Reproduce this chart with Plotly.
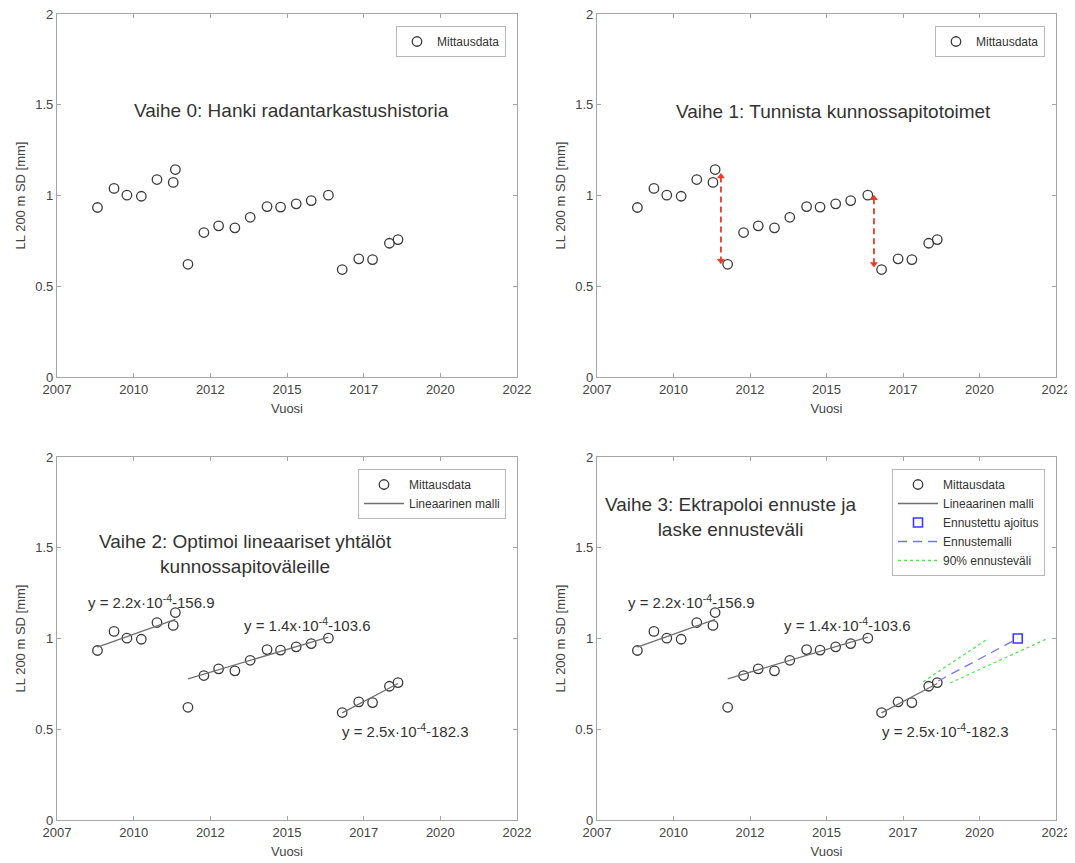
import plotly.graph_objects as go

# ---------------- data ----------------
years = [2008.32, 2008.86, 2009.28, 2009.75, 2010.26, 2010.79, 2010.86,
         2011.27, 2011.79, 2012.27, 2012.80, 2013.30, 2013.85, 2014.29,
         2014.80, 2015.29, 2015.85,
         2016.30, 2016.84, 2017.29, 2017.84, 2018.12]
values = [0.934, 1.039, 1.002, 0.996, 1.088, 1.072, 1.143,
          0.621, 0.796, 0.833, 0.822, 0.880, 0.939, 0.936,
          0.954, 0.972, 1.002,
          0.592, 0.651, 0.647, 0.737, 0.757]

# linear model segments (start/end)
fit_x0 = [2008.32, 2011.27, 2016.30]
fit_x1 = [2010.86, 2015.85, 2018.12]
fit_y0 = [0.952, 0.778, 0.590]
fit_y1 = [1.105, 1.007, 0.752]
fit_labels = ["y = 2.2x·10<sup>-4</sup>-156.9",
              "y = 1.4x·10<sup>-4</sup>-103.6",
              "y = 2.5x·10<sup>-4</sup>-182.3"]

# maintenance jumps (arrows in panel 1)
jump_x = [2011.05, 2016.05]
jump_top = [1.105, 0.985]
jump_bottom = [0.640, 0.622]

# forecast (panel 3)
fc_x = [2018.15, 2020.75]
fc_y = [0.766, 1.0]
pred_x = [2020.75]
pred_y = [1.0]
pi_up_x = [2017.66, 2019.79]
pi_up_y = [0.762, 1.0]
pi_lo_x = [2018.54, 2021.72]
pi_lo_y = [0.755, 1.0]

xtick_vals = [2007, 2009.5, 2012, 2014.5, 2017, 2019.5, 2022]
xtick_text = ["2007", "2010", "2012", "2015", "2017", "2020", "2022"]
ytick_vals = [0, 0.5, 1, 1.5, 2]
ytick_text = ["0", "0.5", "1", "1.5", "2"]

# ---------------- styling ----------------
FONT = "Liberation Sans, Arial, Helvetica, sans-serif"
AX = "#a6a6a6"
TXT = "#444444"
MK = "#3a3a3a"
FIT = "#707070"
PAGE_OFF = 8                      # default body margin of the html page
W, H = 1075 - PAGE_OFF, 863 - PAGE_OFF


def px(x):
    return (x - PAGE_OFF) / W


def py(y):
    return 1 - (y - PAGE_OFF) / H


fig = go.Figure()

panels = {
    1: dict(x=(57, 517), y=(14, 377)),
    2: dict(x=(597, 1056), y=(14, 377)),
    3: dict(x=(57, 517), y=(457, 820)),
    4: dict(x=(597, 1056), y=(457, 820)),
}


def sfx(i):
    return "" if i == 1 else str(i)


for i, p in panels.items():
    xd = [px(p["x"][0]), px(p["x"][1])]
    yd = [py(p["y"][1]), py(p["y"][0])]
    fig.layout["xaxis" + sfx(i)] = dict(
        domain=xd, anchor="y" + sfx(i), range=[2007, 2022], automargin=False,
        tickvals=xtick_vals, ticktext=xtick_text, ticklabeloverflow="allow",
        ticks="inside", ticklen=4, tickcolor=AX, tickwidth=1,
        showline=True, linecolor=AX, linewidth=1.3, mirror="ticks",
        showgrid=False, zeroline=False,
        tickfont=dict(family=FONT, size=13, color=TXT),
        title=dict(text="Vuosi", font=dict(family=FONT, size=13, color=TXT), standoff=8),
    )
    fig.layout["yaxis" + sfx(i)] = dict(
        domain=yd, anchor="x" + sfx(i), range=[0, 2], automargin=False,
        tickvals=ytick_vals, ticktext=ytick_text, ticklabeloverflow="allow",
        ticks="inside", ticklen=4, tickcolor=AX, tickwidth=1,
        showline=True, linecolor=AX, linewidth=1.3, mirror="ticks",
        showgrid=False, zeroline=False,
        tickfont=dict(family=FONT, size=13, color=TXT),
        title=dict(text="LL 200 m SD [mm]", font=dict(family=FONT, size=13, color=TXT), standoff=6),
    )

legend_names = {1: "legend", 2: "legend2", 3: "legend3", 4: "legend4"}

# fit line as one trace with gaps
fit_xs, fit_ys = [], []
for a, b, c, d in zip(fit_x0, fit_x1, fit_y0, fit_y1):
    fit_xs += [a, b, None]
    fit_ys += [c, d, None]

for i in panels:
    xa, ya = "x" + sfx(i), "y" + sfx(i)
    lg = legend_names[i]
    fig.add_trace(go.Scatter(
        x=years, y=values, mode="markers", name="Mittausdata",
        marker=dict(symbol="circle-open", size=9.5, color=MK, line=dict(width=1.3, color=MK)),
        xaxis=xa, yaxis=ya, legend=lg, showlegend=True))
    if i >= 3:
        fig.add_trace(go.Scatter(
            x=fit_xs, y=fit_ys, mode="lines", name="Lineaarinen malli",
            line=dict(color=FIT, width=1.3), xaxis=xa, yaxis=ya, legend=lg))

# panel 2 arrows
for jx, jt, jb in zip(jump_x, jump_top, jump_bottom):
    fig.add_trace(go.Scatter(
        x=[jx, jx], y=[jt, jb], mode="lines+markers",
        line=dict(color="#ee3b24", width=1.8, dash="6px,4px"),
        marker=dict(symbol=["triangle-up", "triangle-down"], size=7, color="#ee3b24"),
        xaxis="x2", yaxis="y2", showlegend=False))

# panel 4 forecast
fig.add_trace(go.Scatter(
    x=pred_x, y=pred_y, mode="markers", name="Ennustettu ajoitus",
    marker=dict(symbol="square-open", size=9, color="#3a3aff", line=dict(width=1.6, color="#3a3aff")),
    xaxis="x4", yaxis="y4", legend="legend4"))
fig.add_trace(go.Scatter(
    x=fc_x, y=fc_y, mode="lines", name="Ennustemalli",
    line=dict(color="#7373ff", width=1.3, dash="9px,6px"),
    xaxis="x4", yaxis="y4", legend="legend4"))
fig.add_trace(go.Scatter(
    x=pi_up_x, y=pi_up_y, mode="lines", name="90% ennusteväli",
    line=dict(color="#55e455", width=1.3, dash="dot"),
    xaxis="x4", yaxis="y4", legend="legend4", legendgroup="pi"))
fig.add_trace(go.Scatter(
    x=pi_lo_x, y=pi_lo_y, mode="lines", name="90% ennusteväli",
    line=dict(color="#55e455", width=1.3, dash="dot"),
    xaxis="x4", yaxis="y4", legend="legend4", legendgroup="pi", showlegend=False))


# legends
def legend_at(right_px, top_px, iw=30):
    return dict(x=px(right_px), y=py(top_px), xanchor="right", yanchor="top",
                bgcolor="white", bordercolor="#b8b8b8", borderwidth=1,
                font=dict(family=FONT, size=12, color="#333333"),
                itemwidth=iw, tracegroupgap=0)


fig.update_layout(
    legend=legend_at(506, 26),
    legend2=legend_at(1045, 26),
    legend3=legend_at(506, 469, 40),
    legend4=legend_at(1045, 469, 40),
)

# titles inside panels
TF = dict(family=FONT, size=19, color="#333333")
EF = dict(family=FONT, size=15, color="#333333")
ann = [
    dict(text="Vaihe 0: Hanki radantarkastushistoria", x=px(291), y=py(110), font=TF),
    dict(text="Vaihe 1: Tunnista kunnossapitotoimet", x=px(833), y=py(112), font=TF),
    dict(text="Vaihe 2: Optimoi lineaariset yhtälöt<br>kunnossapitoväleille", x=px(245), y=py(554), font=TF),
    dict(text="Vaihe 3: Ektrapoloi ennuste ja<br>laske ennusteväli", x=px(730), y=py(517), font=TF),
]
eq_pos = [(151, 601.5), (307, 624.8), (405, 730)]
for off in (0, 540):
    for txt, (ex, ey) in zip(fit_labels, eq_pos):
        ann.append(dict(text=txt, x=px(ex + off), y=py(ey), font=EF))
for a in ann:
    a.update(xref="paper", yref="paper", showarrow=False, xanchor="center", yanchor="middle")
fig.update_layout(annotations=ann)

fig.update_layout(
    width=W, height=H, margin=dict(l=0, r=0, t=0, b=0),
    paper_bgcolor="white", plot_bgcolor="white",
    font=dict(family=FONT, color=TXT),
)

fig.write_html("out.html")
